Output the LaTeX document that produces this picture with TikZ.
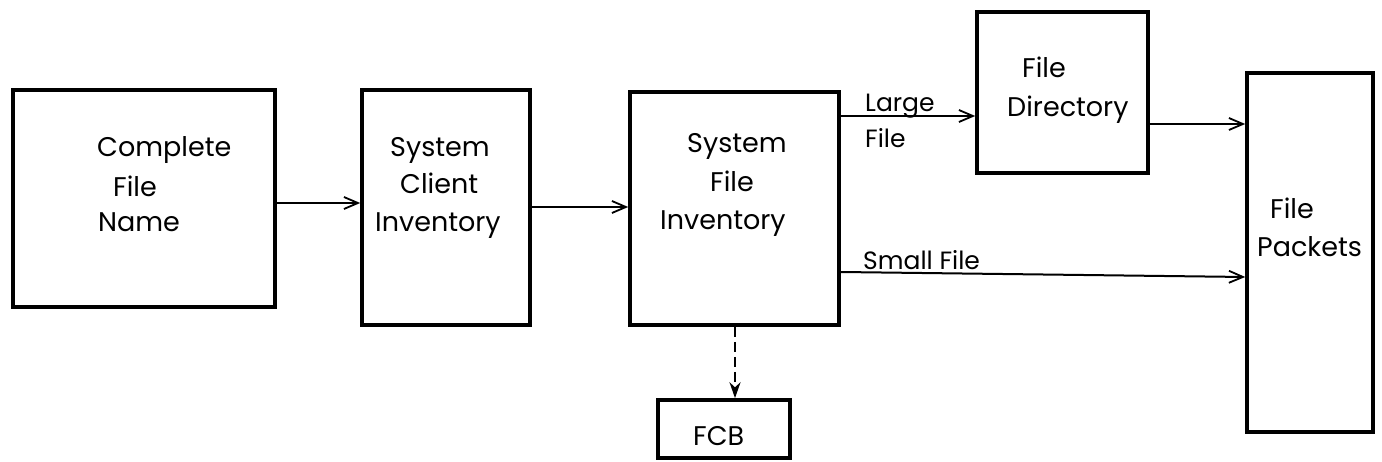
\documentclass[tikz,border=0pt]{standalone}
\usepackage{fontspec}
\setmainfont{Poppins}
\usetikzlibrary{arrows.meta}
\tikzset{
  boxnode/.style={draw, line width=3.6pt, rectangle, inner sep=0pt},
  lbl/.style={inner sep=0pt, anchor=base west, font=\fontsize{27}{32}\selectfont},
  slbl/.style={inner sep=0pt, anchor=base west, font=\fontsize{25}{30}\selectfont},
  arr/.style={line width=2pt, -{Straight Barb[length=14pt,width=12pt,line width=1.8pt]}},
  darr/.style={line width=2.4pt, dash pattern=on 10pt off 5pt, -{Stealth[length=16pt,width=11pt]}}
}
\begin{document}
\begin{tikzpicture}[x=1pt,y=-1pt]
\useasboundingbox[fill=white] (0,0) rectangle (1382,462);
% boxes
\node[boxnode, minimum width=262, minimum height=217] (b1) at (144,198.5) {};
\node[boxnode, minimum width=168, minimum height=235] (b2) at (446,207.5) {};
\node[boxnode, minimum width=209, minimum height=233] (b3) at (734.5,208.5) {};
\node[boxnode, minimum width=171, minimum height=161] (dir) at (1062.5,92.5) {};
\node[boxnode, minimum width=126, minimum height=359] (pk) at (1310,252.5) {};
\node[boxnode, minimum width=132, minimum height=58] (fcb) at (724,429) {};
% texts
\node[lbl] (t1a) at (97,157) {Complete};
\node[lbl] (t1b) at (113,197) {File};
\node[lbl] (t1c) at (98,232) {Name};
\node[lbl] (t2a) at (390,157) {System};
\node[lbl] (t2b) at (400,194) {Client};
\node[lbl] (t2c) at (375,232) {Inventory};
\node[lbl] (t3a) at (687,153) {System};
\node[lbl] (t3b) at (710,192) {File};
\node[lbl] (t3c) at (660,230) {Inventory};
\node[lbl] (t4a) at (1022,78) {File};
\node[lbl] (t4b) at (1007,117) {Directory};
\node[lbl] (t5a) at (1270,219) {File};
\node[lbl] (t5b) at (1257,257) {Packets};
\node[lbl] (t6) at (693,445) {FCB};
\node[slbl] (l1a) at (865,112) {Large};
\node[slbl] (l1b) at (865,148) {File};
\node[slbl] (l2) at (863,270) {Small File};
% connectors
\draw[arr] (b1.east |- 0,203) -- (b2.west |- 0,203);
\draw[arr] (b2.east |- 0,207) -- (b3.west |- 0,207);
\draw[arr] (b3.east |- 0,116) -- (dir.west |- 0,116);
\draw[arr] (dir.east |- 0,124) -- (pk.west |- 0,124);
\draw[arr] (b3.east |- 0,272) -- (pk.west |- 0,277);
\draw[darr] (b3.south -| 735,0) -- (fcb.north -| 735,0);
\end{tikzpicture}
\end{document}
